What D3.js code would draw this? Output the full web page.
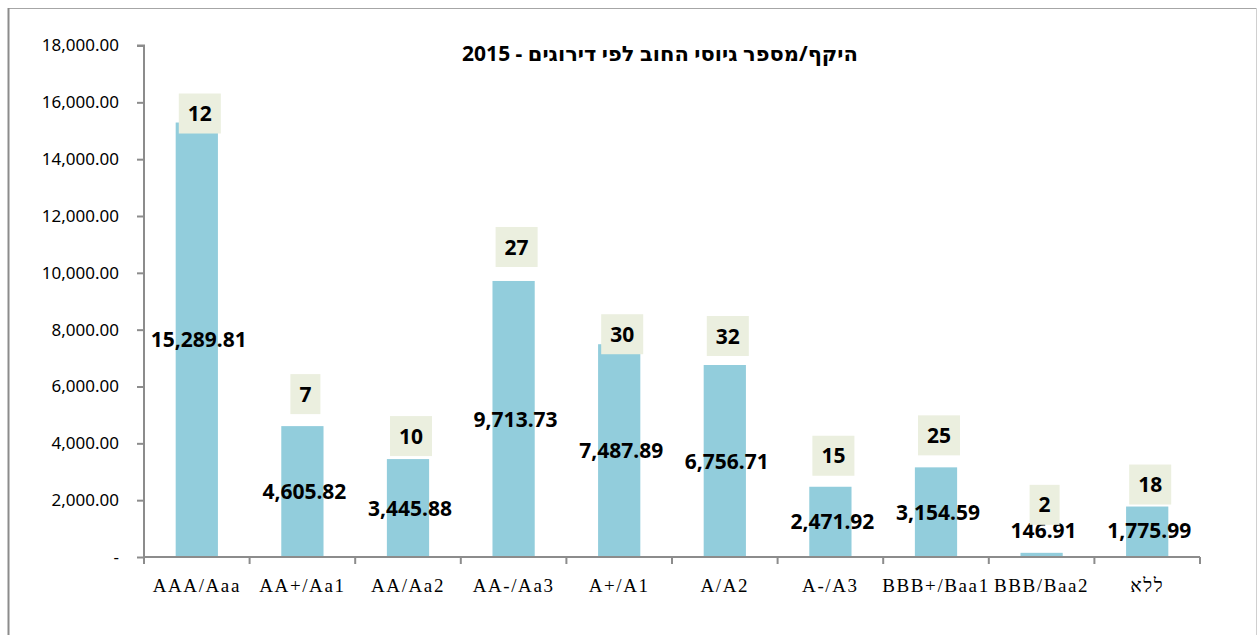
<!DOCTYPE html>
<html>
<head>
<meta charset="utf-8">
<script src="https://cdn.jsdelivr.net/npm/d3@7"></script>
<style>
  body { margin: 0; background: #fff; }
  svg { display: block; }
</style>
</head>
<body>
<div id="viz"></div>
<script>
// ratings, issue volume and number of issues
let ratings = ['AAA/Aaa', 'AA+/Aa1', 'AA/Aa2', 'AA-/Aa3', 'A+/A1', 'A/A2', 'A-/A3', 'BBB+/Baa1', 'BBB/Baa2', 'ללא'];
let volumes = [15289.81, 4605.82, 3445.88, 9713.73, 7487.89, 6756.71, 2471.92, 3154.59, 146.91, 1775.99];
let counts = [12, 7, 10, 27, 30, 32, 15, 25, 2, 18];
let yTicks = [0, 2000, 4000, 6000, 8000, 10000, 12000, 14000, 16000, 18000];

// the count boxes were dragged by hand in the original, so each one sits a bit differently above its bar (px)
let countLabelGap = [-11, 12, 3, 14, -10, 9, 11, 12, 28, 2];

let title = 'היקף/מספר גיוסי החוב לפי דירוגים - 2015';

const dimensions = {
    width: 1258,
    height: 635,
    margins: { top: 45.5, right: 58, bottom: 78, left: 144 }
}
dimensions.boundedWidth = dimensions.width - dimensions.margins.left - dimensions.margins.right;
dimensions.boundedHeight = dimensions.height - dimensions.margins.top - dimensions.margins.bottom;

const numFont = '"Noto Sans", "DejaVu Sans", sans-serif';

const svg = d3.select('#viz').append('svg')
    .attr('width', dimensions.width)
    .attr('height', dimensions.height);

// frame of the chart area
svg.append('line').attr('x1', 8.5).attr('x2', 1256.5).attr('y1', 8.5).attr('y2', 8.5)
    .attr('stroke', '#a6a6a6').attr('stroke-width', 1);
svg.append('line').attr('x1', 8.5).attr('x2', 8.5).attr('y1', 8).attr('y2', 635)
    .attr('stroke', '#8c8c8c').attr('stroke-width', 2);
svg.append('line').attr('x1', 1256.5).attr('x2', 1256.5).attr('y1', 8).attr('y2', 635)
    .attr('stroke', '#d0d0d0').attr('stroke-width', 1);

const bounds = svg.append('g')
    .attr('transform', `translate(${dimensions.margins.left}, ${dimensions.margins.top})`);

// SCALES
const xScale = d3.scaleBand()
    .domain(ratings)
    .range([0, dimensions.boundedWidth])
    .paddingInner(0.6)
    .paddingOuter(0.3);

const yScale = d3.scaleLinear()
    .domain([0, 18000])
    .range([dimensions.boundedHeight, 0]);

// bars
bounds.selectAll('rect.bar')
    .data(volumes)
    .join('rect')
    .attr('class', 'bar')
    .attr('x', (d, i) => xScale(ratings[i]))
    .attr('width', xScale.bandwidth())
    .attr('y', d => yScale(d))
    .attr('height', d => yScale(0) - yScale(d))
    .attr('fill', '#92cddc');

// AXES
const yAxis = d3.axisLeft(yScale)
    .tickValues(yTicks)
    .tickSize(7)
    .tickPadding(18)
    .tickFormat(d => d === 0 ? '-' : d3.format(',.2f')(d));

const yAxisG = bounds.append('g').call(yAxis);
yAxisG.selectAll('text')
    .style('font-family', numFont)
    .style('font-size', '17px')
    .attr('fill', '#000');

const xAxis = d3.axisBottom(xScale)
    .tickSize(0)
    .tickPadding(22);

const xAxisG = bounds.append('g')
    .attr('transform', `translate(0, ${dimensions.boundedHeight})`)
    .call(xAxis);
xAxisG.selectAll('text')
    .style('font-family', '"Liberation Serif", "Times New Roman", serif')
    .style('font-size', '19px')
    .style('letter-spacing', '1.6px')
    .attr('fill', '#000');

// tick marks sit between categories, not under them
xAxisG.selectAll('line.sep')
    .data(d3.range(ratings.length + 1))
    .join('line')
    .attr('class', 'sep')
    .attr('x1', i => i * xScale.step())
    .attr('x2', i => i * xScale.step())
    .attr('y1', 0)
    .attr('y2', 7);

[yAxisG, xAxisG].forEach(g => {
    g.selectAll('.domain').attr('stroke', '#8c8c8c').attr('stroke-width', 2);
    g.selectAll('line').attr('stroke', '#8c8c8c').attr('stroke-width', 2);
});
xAxisG.select('.domain').attr('d', `M0,0H${dimensions.boundedWidth}`);
yAxisG.select('.domain').attr('d', `M-7,0H0V${dimensions.boundedHeight}`);

// value labels, centred in the bar (kept clear of the axis for the tiny bar)
bounds.selectAll('text.value')
    .data(volumes)
    .join('text')
    .attr('class', 'value')
    .attr('x', (d, i) => xScale(ratings[i]) + xScale.bandwidth() / 2 + 2)
    .attr('y', d => Math.min((yScale(d) + yScale(0)) / 2, yScale(0) - 27))
    .attr('dy', '0.36em')
    .attr('text-anchor', 'middle')
    .style('font-family', numFont)
    .style('font-size', '21px')
    .style('font-weight', 'bold')
    .text(d => d3.format(',.2f')(d));

// count labels in their little boxes
const countG = bounds.selectAll('g.count')
    .data(counts)
    .join('g')
    .attr('class', 'count');

countG.append('text')
    .attr('text-anchor', 'middle')
    .attr('dy', '0.36em')
    .style('font-family', numFont)
    .style('font-size', '21px')
    .style('font-weight', 'bold')
    .text(d => d);

countG.each(function(d, i) {
    const g = d3.select(this);
    const w = g.select('text').node().getComputedTextLength() + 18;
    const h = 40;
    const cx = xScale(ratings[i]) + xScale.bandwidth() / 2 + 3;
    const bottom = yScale(volumes[i]) - countLabelGap[i];
    g.attr('transform', `translate(${cx}, ${bottom - h / 2})`);
    g.insert('rect', 'text')
        .attr('x', -w / 2)
        .attr('y', -h / 2)
        .attr('width', w)
        .attr('height', h)
        .attr('fill', '#ebefdf');
});

// title
svg.append('text')
    .attr('x', 660)
    .attr('y', 53)
    .attr('dy', '0.36em')
    .attr('text-anchor', 'middle')
    .attr('direction', 'rtl')
    .style('font-family', numFont)
    .style('font-size', '21px')
    .style('font-weight', 'bold')
    .text(title);
</script>
</body>
</html>
